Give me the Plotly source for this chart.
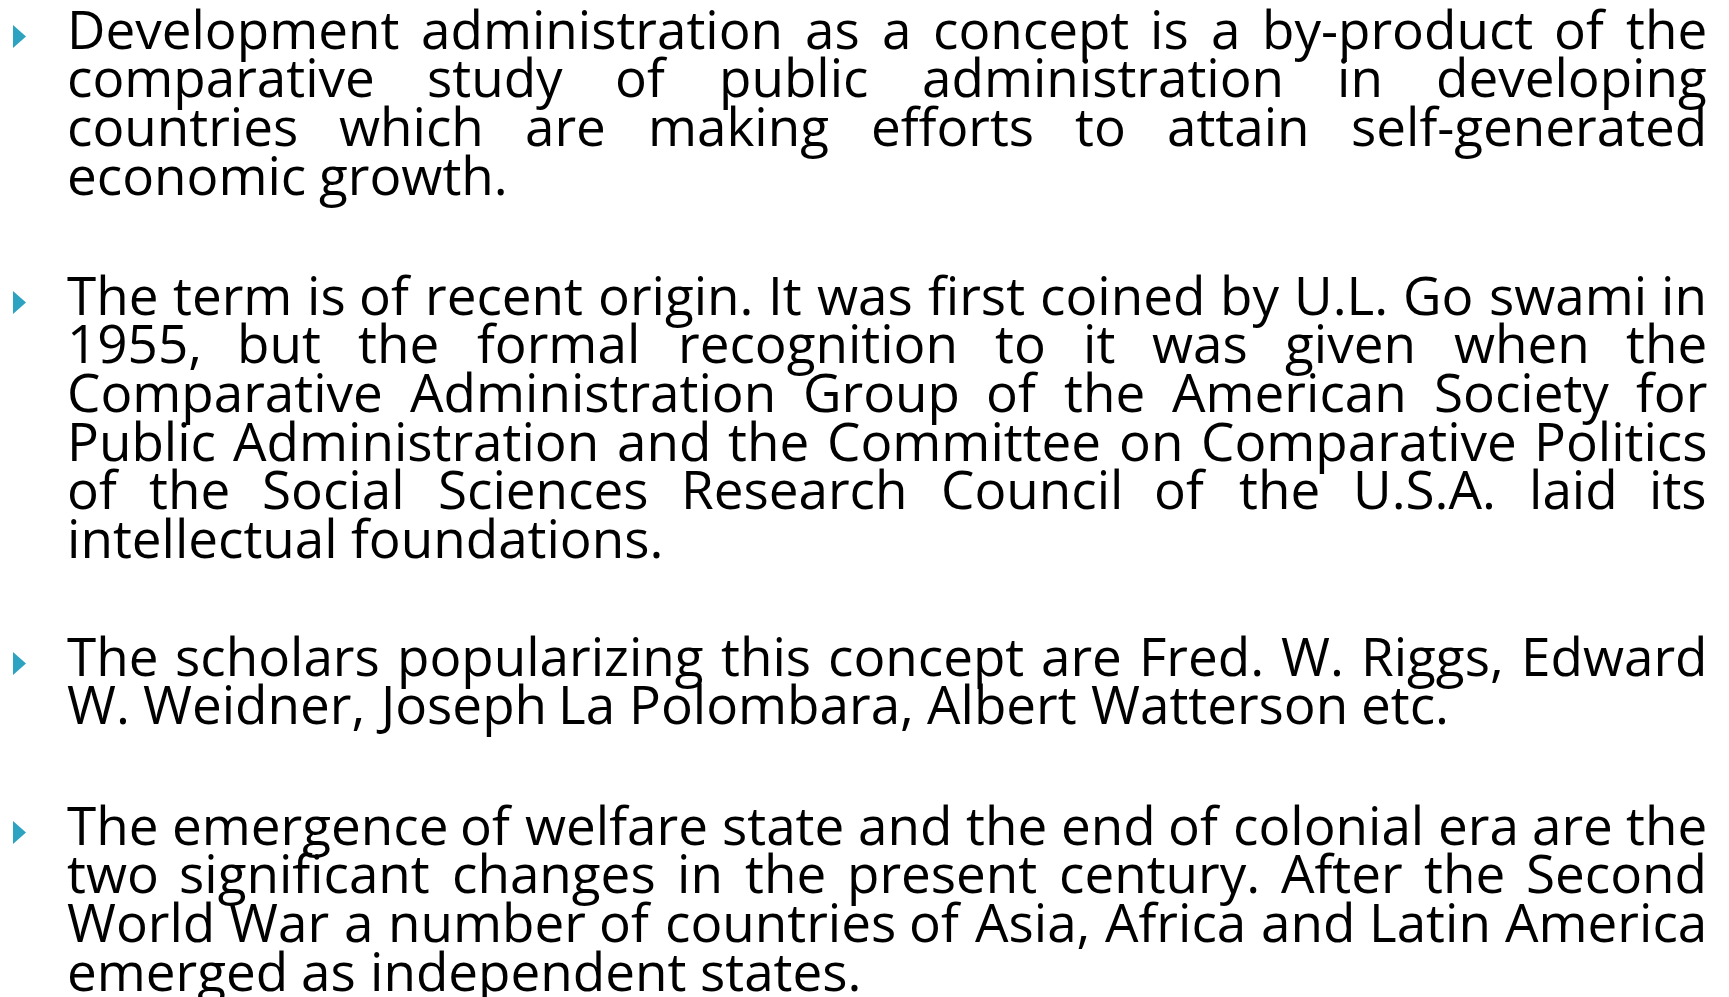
import plotly.graph_objects as go

# ---- content -------------------------------------------------------------
para1 = [
    "Development administration as a concept is a by-product of the",
    "comparative study of public administration in developing",
    "countries which are making efforts to attain self-generated",
    "economic growth.",
]
para2 = [
    "The term is of recent origin. It was first coined by U.L. Go swami in",
    "1955, but the formal recognition to it was given when the",
    "Comparative Administration Group of the American Society for",
    "Public Administration and the Committee on Comparative Politics",
    "of the Social Sciences Research Council of the U.S.A. laid its",
    "intellectual foundations.",
]
para3 = [
    "The scholars popularizing this concept are Fred. W. Riggs, Edward",
    "W. Weidner, Joseph La Polombara, Albert Watterson etc.",
]
para4 = [
    "The emergence of welfare state and the end of colonial era are the",
    "two significant changes in the present century. After the Second",
    "World War a number of countries of Asia, Africa and Latin America",
    "emerged as independent states.",
]
paragraphs = [para1, para2, para3, para4]

# ---- layout constants ---------------------------------------------------
W, H = 1729, 997
BODY = 8  # default page margin around the plot div
LEFT, RIGHT = 66, 1708
FIRST_BASELINE = [48, 314, 675, 844]
LINE_GAP = 48.7
FS = 53
FONT = "Open Sans"
BULLET_COLOR = "#2EA3C1"

ADV = {
    " ": 532, "!": 547, ",": 500, "-": 659, ".": 545, ":": 545, ";": 545,
    "A": 1296, "B": 1327, "C": 1292, "D": 1493, "E": 1139, "F": 1057, "G": 1491,
    "H": 1511, "I": 571, "J": 547, "K": 1257, "L": 1063, "M": 1849, "N": 1544,
    "O": 1595, "P": 1233, "Q": 1595, "R": 1266, "S": 1124, "T": 1133, "U": 1491,
    "V": 1219, "W": 1896, "X": 1182, "Y": 1141, "Z": 1145,
    "a": 1139, "b": 1255, "c": 975, "d": 1255, "e": 1149, "f": 694, "g": 1122,
    "h": 1257, "i": 518, "j": 518, "k": 1075, "l": 518, "m": 1905, "n": 1257,
    "o": 1237, "p": 1255, "q": 1255, "r": 836, "s": 977, "t": 723, "u": 1257,
    "v": 1026, "w": 1593, "x": 1073, "y": 1028, "z": 954,
}


def width(s):
    return sum(ADV.get(ch, 1171) for ch in s) / 2048 * FS


annotations = []
bullet_x, bullet_y = [], []
for p, lines in enumerate(paragraphs):
    for li, line in enumerate(lines):
        base = FIRST_BASELINE[p] + li * LINE_GAP
        ymid = base - 20
        words = line.split(" ")
        widths = [width(w) for w in words]
        justify = li < len(lines) - 1
        if justify and len(words) > 1:
            gap = (RIGHT - LEFT - sum(widths)) / (len(words) - 1)
        else:
            gap = width(" ")
        x = LEFT
        for k, (wd, wl) in enumerate(zip(words, widths)):
            if justify and k == len(words) - 1 and len(words) > 1:
                ax, anc = RIGHT, "right"
            elif k == 0:
                ax, anc = LEFT, "left"
            else:
                ax, anc = x + wl / 2, "center"
            annotations.append(dict(
                x=ax, y=ymid, xref="x", yref="y", text=wd, showarrow=False,
                xanchor=anc, yanchor="middle", borderpad=0,
                font=dict(family=FONT, size=FS, color="#000000"),
            ))
            x += wl + gap
        if li == 0:
            bullet_x.append(19.5)
            bullet_y.append(base - 11.5)

# bullets as filled triangles derived from bullet centres
bx, by = [], []
for cx, cy in zip(bullet_x, bullet_y):
    bx += [cx - 6.5, cx + 6.5, cx - 6.5, cx - 6.5, None]
    by += [cy - 11.5, cy, cy + 11.5, cy - 11.5, None]

fig = go.Figure()
fig.add_trace(go.Scatter(x=bx, y=by, mode="lines", fill="toself",
                         fillcolor=BULLET_COLOR, line=dict(width=0, color=BULLET_COLOR),
                         hoverinfo="skip", showlegend=False))
fig.update_layout(
    width=W - 2 * BODY, height=H - BODY, margin=dict(l=0, r=0, t=0, b=0),
    paper_bgcolor="white", plot_bgcolor="white",
    xaxis=dict(range=[BODY, W - BODY], visible=False, fixedrange=True),
    yaxis=dict(range=[H, BODY], visible=False, fixedrange=True),
    annotations=annotations, showlegend=False,
)
fig.write_html("out.html", config={"displayModeBar": False})
